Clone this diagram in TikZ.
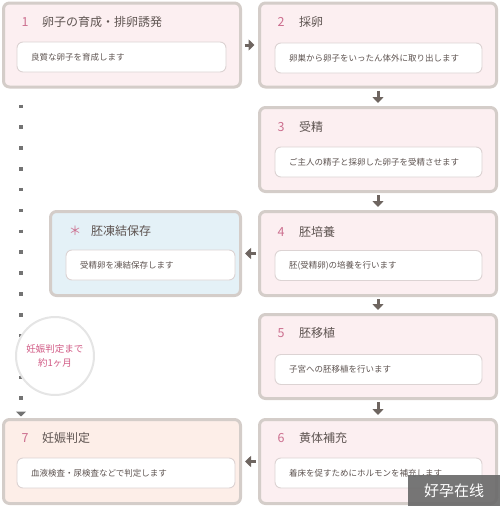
\documentclass[tikz,border=0pt]{standalone}
\usepackage{fontspec}
\setmainfont{Noto Sans CJK JP}
\usetikzlibrary{arrows.meta}

\definecolor{boxline}{HTML}{D4CDC9}
\definecolor{pinkbg}{HTML}{FCEFF1}
\definecolor{bluebg}{HTML}{E4F1F7}
\definecolor{peachbg}{HTML}{FDEEE8}
\definecolor{numpink}{HTML}{CC6F8F}
\definecolor{titlegray}{HTML}{5E5451}
\definecolor{innerline}{HTML}{DCD3D3}
\definecolor{arrowgray}{HTML}{6E6560}
\definecolor{circletext}{HTML}{D15A85}

\tikzset{
  outerbox/.style={draw=boxline, line width=3pt, rounded corners=6pt, minimum width=237pt, minimum height=84pt, inner sep=0pt},
  innerbox/.style={draw=innerline, line width=0.9pt, fill=white, rounded corners=6pt, minimum height=30pt, inner xsep=14pt, inner ysep=0pt, align=left, font=\fontsize{8.5}{10}\selectfont, text=titlegray},
  stepnum/.style={font=\fontsize{12.5}{14}\selectfont, text=numpink, inner sep=0pt},
  steptitle/.style={font=\fontsize{12}{14}\selectfont, text=titlegray, anchor=west, inner sep=0pt},
  flowarrow/.style={draw=arrowgray, line width=3pt, -{Triangle[length=6pt, width=11pt]}},
}

\begin{document}
\begin{tikzpicture}[x=1pt, y=-1pt]
  \useasboundingbox (0,0) rectangle (500,506);

  % Außenkästen
  \node[outerbox, fill=pinkbg] (b1) at (122,45) {};
  \node[outerbox, fill=pinkbg] (b2) at (378,45) {};
  \node[outerbox, fill=pinkbg] (b3) at (378,149.5) {};
  \node[outerbox, fill=pinkbg] (b4) at (378,253.5) {};
  \node[outerbox, fill=bluebg, minimum width=190pt] (fr) at (145.5,253.5) {};
  \node[outerbox, fill=pinkbg] (b5) at (378,356.5) {};
  \node[outerbox, fill=pinkbg] (b6) at (378,461.5) {};
  \node[outerbox, fill=peachbg] (b7) at (122,461.5) {};

  % Titel
  \node[stepnum] at (25,22) {1};
  \node[steptitle] at (42,22) {卵子の育成・排卵誘発};
  \node[stepnum] at (281,22) {2};
  \node[steptitle] at (299,22) {採卵};
  \node[stepnum] at (281,127) {3};
  \node[steptitle] at (299,127) {受精};
  \node[stepnum] at (281,232) {4};
  \node[steptitle] at (299,232) {胚培養};
  \node[stepnum] at (75,231) {＊};
  \node[steptitle] at (91,231) {胚凍結保存};
  \node[stepnum] at (281,333) {5};
  \node[steptitle] at (299,333) {胚移植};
  \node[stepnum] at (281,438) {6};
  \node[steptitle] at (299,438) {黄体補充};
  \node[stepnum] at (25,438) {7};
  \node[steptitle] at (42,438) {妊娠判定};

  % Innenkästen
  \node[innerbox, text width=181pt] (i1) at (121.5,57) {良質な卵子を育成します};
  \node[innerbox, text width=179pt] (i2) at (378.5,58) {卵巣から卵子をいったん体外に取り出します};
  \node[innerbox, text width=179pt] (i3) at (378.5,162) {ご主人の精子と採卵した卵子を受精させます};
  \node[innerbox, text width=179pt] (i4) at (378.5,265.5) {胚(受精卵)の培養を行います};
  \node[innerbox, text width=141pt] (ifr) at (150.5,265) {受精卵を凍結保存します};
  \node[innerbox, text width=179pt] (i5) at (378.5,369.5) {子宮への胚移植を行います};
  \node[innerbox, text width=179pt] (i6) at (378.5,473) {着床を促すためにホルモンを補充します};
  \node[innerbox, text width=190pt] (i7) at (126,473) {血液検査・尿検査などで判定します};

  % Pfeile
  \draw[flowarrow, shorten <=2.5pt, shorten >=3.5pt] (b1.east |- 0,45) -- (b2.west |- 0,45);
  \draw[flowarrow, shorten <=2pt, shorten >=3pt] (b2.south) -- (b3.north);
  \draw[flowarrow, shorten <=2pt, shorten >=3pt] (b3.south) -- (b4.north);
  \draw[flowarrow, shorten <=2.5pt, shorten >=3pt] (b4.west) -- (b4.west -| fr.east);
  \draw[flowarrow, shorten <=2pt, shorten >=3pt] (b4.south) -- (b5.north);
  \draw[flowarrow, shorten <=2pt, shorten >=3pt] (b5.south) -- (b6.north);
  \draw[flowarrow, shorten <=2.5pt, shorten >=3pt] (b6.west) -- (b7.east);

  % Punktlinie bis zum Schwangerschaftstest
  \coordinate (d1) at (21,104.5);
  \coordinate (d2) at (21,416.5);
  \draw[draw=black!55, line width=3.5pt, dash pattern=on 3.5pt off 17.35pt,
        -{Triangle[length=5pt, width=10pt]}] (d1) -- (d2);

  % Kreis
  \node[circle, fill=white, draw=black!10, line width=2pt, minimum size=78pt, inner sep=0pt,
        align=center, text=circletext, font=\fontsize{9.5}{14}\selectfont] (cc) at (55,356) {妊娠判定まで\\約1ヶ月};

  % Wasserzeichen
  \node[fill=black!58, fill opacity=0.92, text opacity=1, text=white, minimum width=92pt, minimum height=31pt,
        inner sep=0pt, font=\fontsize{15}{16}\selectfont] (wm) at (454,490.5) {好孕在线};
\end{tikzpicture}
\end{document}
